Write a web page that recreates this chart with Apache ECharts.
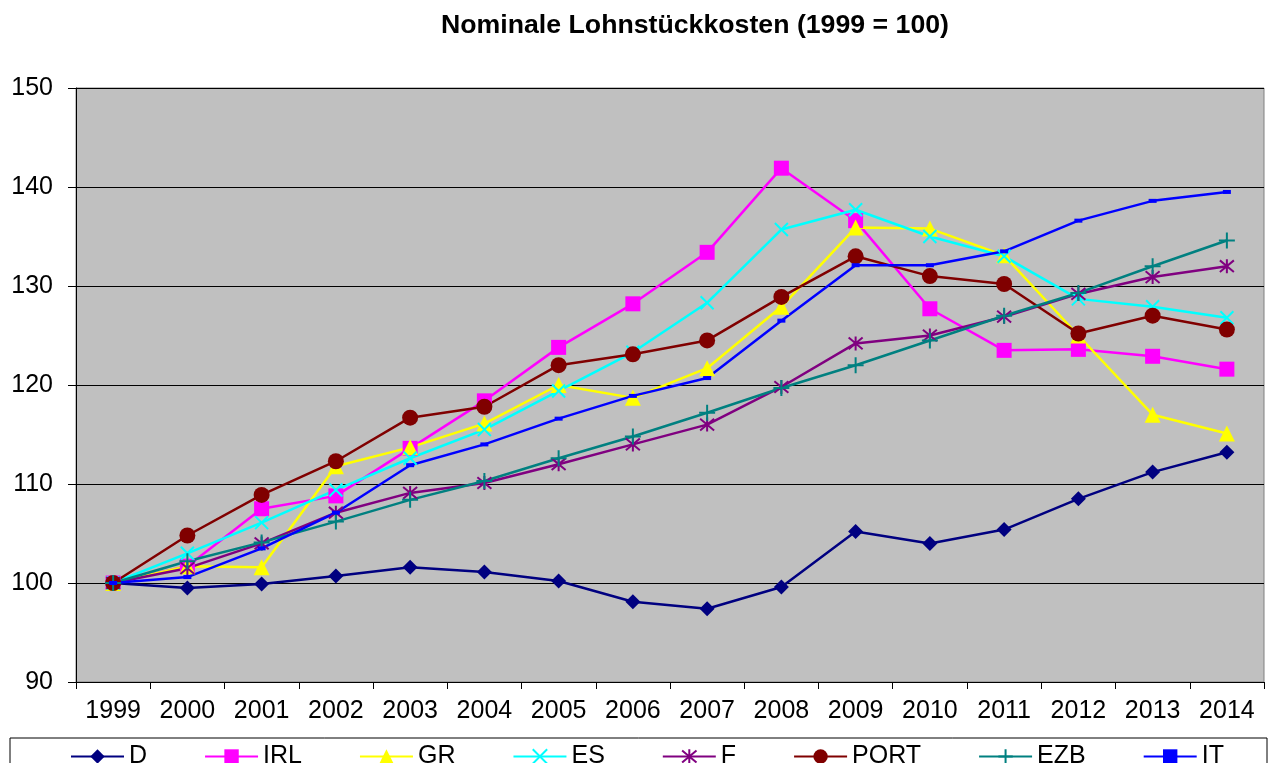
<!DOCTYPE html>
<html>
<head>
<meta charset="utf-8">
<script src="https://cdn.jsdelivr.net/npm/echarts@6/dist/echarts.min.js"></script>
<style>
  html, body { margin: 0; padding: 0; background: #fff; }
  #chart { width: 1269px; height: 763px; }
</style>
</head>
<body>
<div id="chart"></div>
<script>
// Jahre
var years = ['1999', '2000', '2001', '2002', '2003', '2004', '2005', '2006',
             '2007', '2008', '2009', '2010', '2011', '2012', '2013', '2014'];

// Werte (1999 = 100)
var D    = [100, 99.5, 99.9, 100.7, 101.6, 101.1, 100.2, 98.1, 97.4, 99.6, 105.2, 104.0, 105.4, 108.5, 111.2, 113.2];
var IRL  = [100, 101.7, 107.5, 108.8, 113.6, 118.4, 123.8, 128.2, 133.4, 141.9, 136.6, 127.7, 123.5, 123.6, 122.9, 121.6];
var GR   = [100, 101.7, 101.6, 111.8, 113.7, 116.1, 120.0, 118.7, 121.7, 127.9, 135.9, 135.8, 133.1, 125.0, 117.0, 115.1];
var ES   = [100, 103.0, 106.1, 109.4, 112.6, 115.5, 119.4, 123.3, 128.3, 135.7, 137.7, 135.0, 133.0, 128.7, 127.9, 126.8];
var F    = [100, 101.5, 104.0, 107.1, 109.1, 110.1, 112.0, 114.0, 116.0, 119.8, 124.2, 125.0, 126.9, 129.2, 130.9, 132.0];
var PORT = [100, 104.8, 108.9, 112.3, 116.7, 117.8, 122.0, 123.1, 124.5, 128.9, 133.0, 131.0, 130.2, 125.2, 127.0, 125.6];
var EZB  = [100, 102.2, 104.1, 106.2, 108.4, 110.3, 112.6, 114.8, 117.2, 119.7, 122.0, 124.5, 127.0, 129.3, 132.0, 134.6];
var IT   = [100, 100.6, 103.5, 107.1, 111.9, 114.0, 116.6, 118.9, 120.7, 126.5, 132.1, 132.1, 133.5, 136.6, 138.6, 139.5];

var yTicks = [90, 100, 110, 120, 130, 140, 150];

var FONT = 'Liberation Sans, Arial, sans-serif';

// Markersymbole wie im Excel-Original
var symX    = 'path://M0,0L10,10M10,0L0,10';
var symStar = 'path://M0,0L10,10M10,0L0,10M5,-1L5,11';
var symPlus = 'path://M5,0L5,10M0,5L10,5';
var symDash = 'path://M0,0L8,0L8,4L0,4Z';

function serie(name, data, color, symbol, size, hollow, keep) {
    return {
        name: name,
        type: 'line',
        data: data,
        symbol: symbol,
        symbolSize: size,
        symbolKeepAspect: !!keep,
        showAllSymbol: true,
        lineStyle: { color: color, width: 2.5 },
        itemStyle: {
            color: color,
            borderColor: color,
            borderWidth: hollow ? 2 : 0
        },
        emphasis: { disabled: true },
        animation: false
    };
}

var chart = echarts.init(document.getElementById('chart'));
chart.setOption({
    backgroundColor: '#fff',
    textStyle: { fontFamily: FONT },
    title: {
        text: 'Nominale Lohnstückkosten (1999 = 100)',
        left: 441,
        top: 12,
        padding: 0,
        textStyle: { fontFamily: FONT, fontSize: 26.7, fontWeight: 'bold', color: '#000' }
    },
    grid: {
        left: 76, right: 5, top: 88, bottom: 81,
        show: true,
        backgroundColor: '#C0C0C0',
        borderColor: '#808080',
        borderWidth: 1
    },
    legend: {
        data: ['D', 'IRL', 'GR', 'ES', 'F', 'PORT', 'EZB', 'IT'],
        left: 70, top: 744,
        padding: 0,
        itemWidth: 53, itemHeight: 18, itemGap: 57,
        textStyle: { fontFamily: FONT, fontSize: 25, color: '#000' },
        selectedMode: false
    },
    graphic: [{
        type: 'rect',
        shape: { x: 10, y: 738, width: 1257, height: 40 },
        style: { fill: 'none', stroke: '#000', lineWidth: 1 },
        silent: true
    }],
    xAxis: {
        type: 'category',
        data: years,
        boundaryGap: true,
        axisLine: { lineStyle: { color: '#000', width: 1 } },
        axisTick: { show: true, length: 7, lineStyle: { color: '#000' } },
        axisLabel: { fontFamily: FONT, fontSize: 25, color: '#000', margin: 17, interval: 0 },
        splitLine: { show: false }
    },
    yAxis: {
        type: 'value',
        min: yTicks[0],
        max: yTicks[yTicks.length - 1],
        interval: 10,
        axisLine: { show: true, lineStyle: { color: '#000', width: 1 } },
        axisTick: { show: true, length: 8, lineStyle: { color: '#000' } },
        axisLabel: { fontFamily: FONT, fontSize: 25, color: '#000', margin: 23 },
        splitLine: { show: true, lineStyle: { color: '#000', width: 1 } }
    },
    series: [
        serie('D', D, '#000080', 'diamond', 15),
        serie('IRL', IRL, '#FF00FF', 'rect', 15),
        serie('GR', GR, '#FFFF00', 'triangle', 16),
        serie('ES', ES, '#00FFFF', symX, 13, true),
        serie('F', F, '#800080', symStar, 14, true),
        serie('PORT', PORT, '#800000', 'circle', 16),
        serie('EZB', EZB, '#008080', symPlus, 16, true),
        serie('IT', IT, '#0000FF', symDash, 8, false, true)
    ]
});
</script>
</body>
</html>
